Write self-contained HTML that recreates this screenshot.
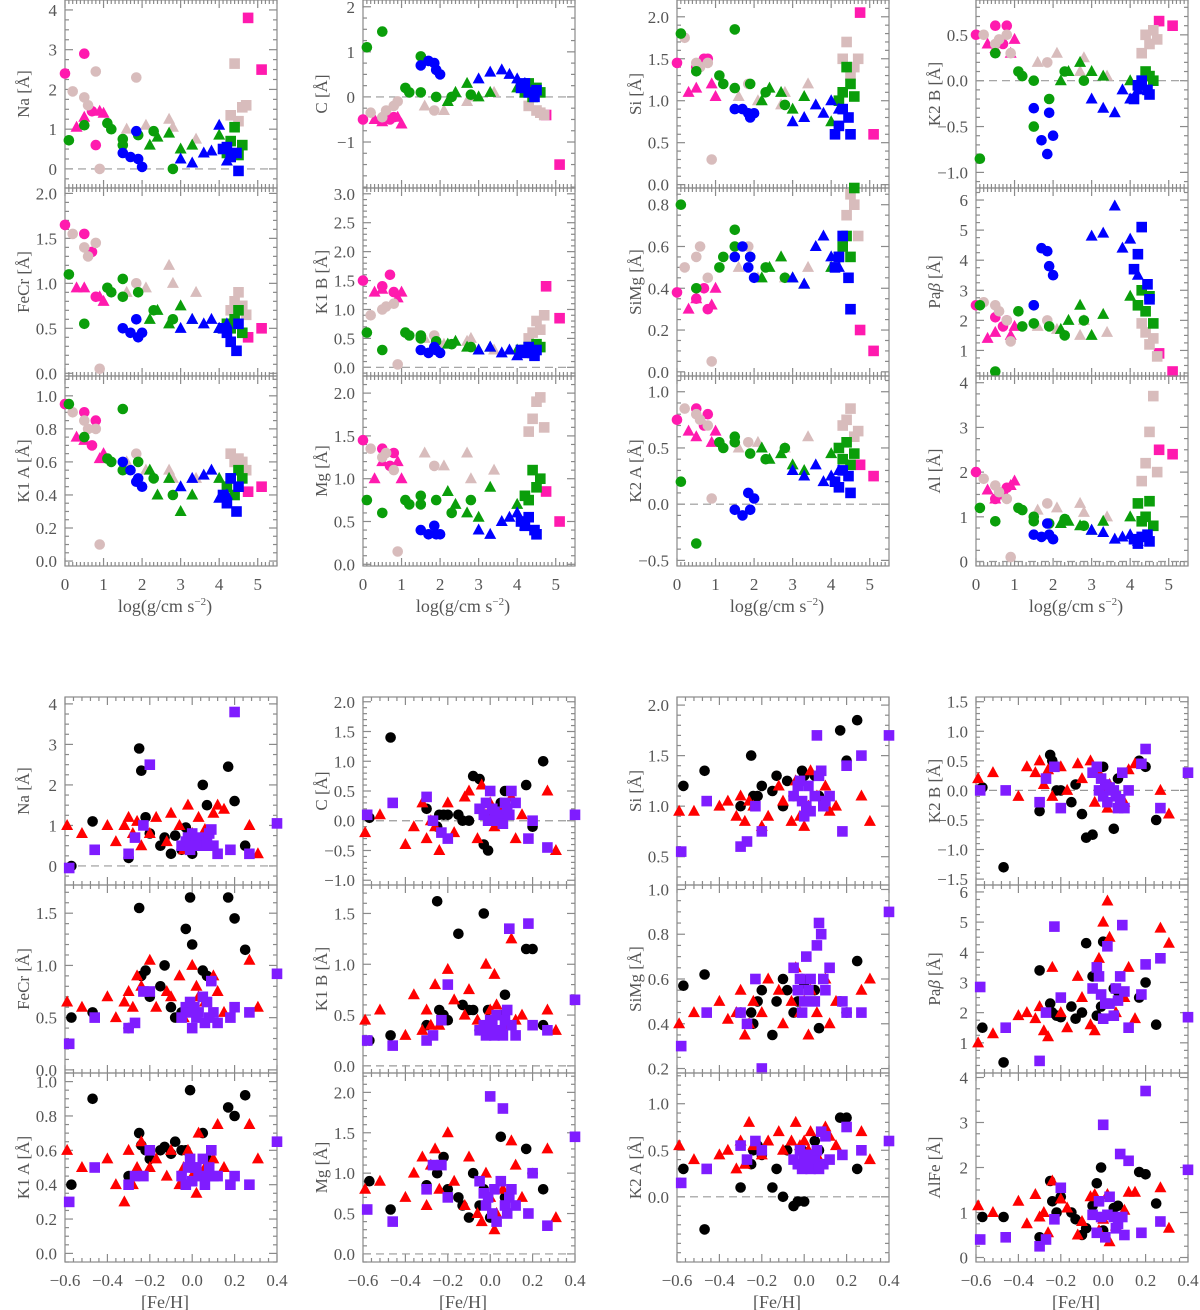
<!DOCTYPE html>
<html><head><meta charset="utf-8"><style>
html,body{margin:0;padding:0;background:#fff}
svg{display:block}
text{font-family:"Liberation Serif",serif;fill:#555}
</style></head><body>
<svg id="fig" width="1200" height="1310" viewBox="0 0 1200 1310" xmlns="http://www.w3.org/2000/svg"></svg>
<script>
// ---------- top block: stars (log g, group) ----------
const loggVals=[0.0,0.8,0.5,0.7, 0.3,0.5,0.9,1.0, 4.75,5.1,
 0.2,0.5,0.6,0.8,0.9,1.85, 1.6,2.1,2.7,2.8,3.4, 4.3,4.4,4.5,4.6,4.7,
 0.1,0.5,1.1,1.2,1.5,1.5,1.9,2.3,2.8, 2.2,2.4,2.7,3.0,3.3,4.0, 4.2,4.3,4.4,4.5,4.6,
 1.5,1.7,1.85,1.9,2.0, 3.0,3.3,3.6,3.8,4.0,4.2, 4.1,4.2,4.3,4.45,4.5];
const topGroups=["mc","mc","mc","mc","mt","mt","mt","mt","ms","ms",
 "pc","pc","pc","pc","pc","pc","pt","pt","pt","pt","pt","ps","ps","ps","ps","ps",
 "gc","gc","gc","gc","gc","gc","gc","gc","gc","gt","gt","gt","gt","gt","gt","gs","gs","gs","gs","gs",
 "bc","bc","bc","bc","bc","bt","bt","bt","bt","bt","bt","bs","bs","bs","bs","bs"];
const naTop=[2.4,0.6,2.9,1.45, 1.05,1.3,1.45,1.4, 3.8,2.5, 1.95,1.8,1.6,2.45,0.0,2.3, 1.0,1.1,1.25,1.05,0.75, 1.35,2.65,1.2,1.55,1.6,
 0.72,1.1,1.15,1.0,0.75,0.6,0.85,0.95,0.0, 0.6,0.8,0.9,0.5,0.6,0.85, 0.4,0.7,1.05,0.35,0.6,
 0.4,0.3,0.95,0.25,0.05, 0.25,0.15,0.4,0.45,1.1,0.2, 0.5,0.55,0.3,0.4,-0.05];
const cTop=[-0.5,-0.45,-0.5,-0.5, -0.5,-0.55,-0.45,-0.6, -0.4,-1.5, -0.35,-0.45,-0.3,-0.2,-0.1,-0.3, -0.2,-0.3,-0.1,0.0,0.1, -0.2,0.0,-0.3,-0.35,-0.4,
 1.1,1.45,0.2,0.1,0.9,0.1,0.0,0.0,0.05, -0.1,0.1,0.3,0.0,0.1,0.2, 0.1,0.3,0.0,0.2,0.1,
 0.7,0.8,0.75,0.6,0.5, 0.4,0.55,0.6,0.5,0.4,0.3, 0.2,0.3,0.1,0.0,0.15];
const siTop=[1.45,1.5,1.4,1.5, 1.1,1.15,1.2,1.05, 2.05,0.6, 1.75,1.45,1.4,1.45,0.3,1.2, 1.05,1.0,0.95,1.1,1.2, 1.5,1.7,1.3,1.4,1.5,
 1.8,1.35,1.3,1.2,1.85,1.15,1.2,1.1,0.95, 1.0,1.15,1.1,0.9,1.05,0.75, 1.0,1.1,1.4,1.2,1.05,
 0.9,0.9,0.85,0.8,0.85, 0.75,0.8,0.95,0.85,1.0,0.9, 0.6,0.7,0.9,0.8,0.6];
const k2bTop=[0.5,0.6,0.6,0.4, 0.4,0.35,0.3,0.45, 0.65,0.6, 0.5,0.4,0.45,0.5,0.3,0.2, 0.2,0.3,0.1,0.25,0.05, 0.3,0.5,0.4,0.55,0.45,
 -0.85,0.3,0.1,0.05,0.0,-0.5,-0.2,0.1,0.0, 0.0,0.1,0.2,0.1,0.05,0.0, -0.05,0.0,0.1,0.05,0.0,
 -0.3,-0.65,-0.8,-0.35,-0.6, -0.2,-0.3,-0.35,-0.1,-0.2,-0.1, -0.2,-0.05,0.0,-0.1,-0.15];
const fecrTop=[1.65,0.85,1.55,1.35, 0.95,0.95,0.85,0.8, 0.4,0.5, 1.55,1.4,1.3,1.45,0.05,1.0, 0.9,0.95,1.2,1.0,0.9, 0.7,0.8,0.9,0.75,0.65,
 1.1,0.55,0.95,0.9,1.05,0.85,0.9,0.7,0.6, 0.6,0.7,0.55,0.75,0.6,0.5, 0.55,0.5,0.6,0.7,0.45,
 0.5,0.45,0.6,0.4,0.45, 0.5,0.6,0.55,0.6,0.5,0.55, 0.5,0.45,0.35,0.25,0.55];
const k1bTop=[1.5,1.3,1.4,1.6, 1.3,1.35,1.2,1.3, 1.4,0.85, 0.9,1.0,1.05,1.1,0.05,0.55, 0.5,0.4,0.45,0.5,0.3, 0.5,0.6,0.8,0.65,0.9,
 0.6,0.3,0.6,0.55,0.55,0.5,0.45,0.4,0.35, 0.4,0.45,0.35,0.3,0.35,0.3, 0.3,0.35,0.25,0.4,0.35,
 0.3,0.25,0.35,0.3,0.25, 0.3,0.35,0.25,0.3,0.2,0.3, 0.3,0.25,0.35,0.2,0.3];
const simgTop=[0.38,0.3,0.35,0.4, 0.3,0.35,0.32,0.4, 0.2,0.1, 0.5,0.55,0.6,0.45,0.05,0.6, 0.5,0.45,0.55,0.45,0.5, 0.65,0.75,0.85,0.8,0.65,
 0.8,0.4,0.5,0.55,0.68,0.6,0.55,0.5,0.45, 0.45,0.5,0.55,0.45,0.42,0.5, 0.55,0.6,0.65,0.55,0.88,
 0.55,0.6,0.5,0.55,0.45, 0.45,0.42,0.6,0.65,0.55,0.5, 0.5,0.55,0.65,0.45,0.3];
const pabTop=[2.5,2.0,2.1,1.8, 1.4,1.6,1.5,1.8, 0.9,0.3, 2.6,2.5,2.3,2.0,1.3,2.0, 1.8,1.7,1.5,2.0,1.6, 1.9,1.6,1.2,1.4,0.8,
 2.5,0.3,2.3,1.8,2.5,1.9,1.8,1.5,2.0, 1.7,2.0,2.5,1.5,2.2,2.8, 2.5,3.0,2.3,2.8,1.9,
 2.5,4.4,4.3,3.8,3.5, 4.8,4.9,5.8,4.4,4.7,3.5, 3.7,4.2,5.1,3.2,2.7];
const k1aTop=[0.95,0.85,0.9,0.7, 0.75,0.73,0.62,0.65, 0.42,0.45, 0.9,0.85,0.8,0.8,0.1,0.65, 0.6,0.55,0.55,0.5,0.5, 0.65,0.6,0.62,0.6,0.55,
 0.95,0.75,0.62,0.6,0.92,0.55,0.6,0.5,0.4, 0.55,0.4,0.5,0.3,0.4,0.5, 0.45,0.5,0.4,0.55,0.5,
 0.6,0.55,0.48,0.5,0.45, 0.45,0.5,0.52,0.55,0.38,0.4, 0.4,0.35,0.5,0.3,0.45];
const mgTop=[1.45,1.3,1.35,1.15, 1.0,1.2,1.2,1.0, 0.85,0.5, 1.35,1.25,1.3,1.1,0.15,1.15, 1.3,1.15,1.3,1.0,1.1, 1.55,1.7,1.9,1.95,1.6,
 0.75,0.6,0.75,0.7,0.8,0.7,0.75,0.6,0.75, 0.85,0.7,0.6,0.55,0.9,0.7, 0.8,0.75,1.1,0.9,1.0,
 0.4,0.35,0.45,0.35,0.35, 0.4,0.35,0.5,0.55,0.6,0.45, 0.5,0.45,0.55,0.4,0.35];
const k2aTop=[0.75,0.8,0.85,0.7, 0.65,0.6,0.55,0.65, 0.35,0.25, 0.85,0.8,0.75,0.7,0.05,0.55, 0.5,0.55,0.45,0.5,0.6, 0.7,0.75,0.85,0.6,0.65,
 0.2,-0.35,0.55,0.5,0.6,0.55,0.45,0.4,0.5, 0.5,0.4,0.45,0.35,0.3,0.45, 0.5,0.4,0.55,0.35,0.45,
 -0.05,-0.1,0.1,-0.05,0.05, 0.3,0.25,0.35,0.2,0.25,0.3, 0.2,0.15,0.3,0.25,0.1];
const alTop=[2.0,1.65,1.4,1.5, 1.6,1.4,1.7,1.8, 2.5,2.4, 1.85,1.7,1.55,1.4,0.1,1.3, 1.15,1.2,1.3,1.1,1.0, 1.8,2.2,2.9,3.7,2.0,
 1.2,0.9,1.2,1.15,1.0,0.9,0.85,0.95,0.8, 0.85,0.9,0.8,0.7,0.9,1.0, 1.3,0.9,1.0,1.35,0.8,
 0.6,0.55,0.85,0.6,0.5, 0.7,0.65,0.5,0.55,0.6,0.45, 0.5,0.4,0.55,0.6,0.45];

// ---------- bottom block: stars ([Fe/H], group) ----------
const fehVals=[-0.57,-0.47,-0.3,-0.25,-0.24,-0.22,-0.2,-0.15,-0.13,-0.1,-0.08,-0.05,-0.03,-0.01,0.0,0.05,0.07,0.17,0.2,0.25,
 -0.59,-0.52,-0.4,-0.36,-0.32,-0.3,-0.28,-0.26,-0.24,-0.2,-0.17,-0.12,-0.1,-0.06,-0.04,-0.02,0.0,0.02,0.03,0.06,0.1,0.12,0.15,0.27,0.31,
 -0.58,-0.46,-0.3,-0.27,-0.23,-0.2,-0.05,-0.03,-0.02,-0.01,0.0,0.01,0.02,0.03,0.05,0.06,0.07,0.08,0.09,0.1,0.12,0.18,0.2,0.27,0.4];
const botGroups=Array(20).fill("kc").concat(Array(25).fill("rt"),Array(25).fill("vs"));
const naBot=[0.0,1.1,0.2,2.9,2.35,1.2,0.8,0.5,0.7,0.3,0.75,0.4,0.95,0.6,0.3,2.0,1.5,2.45,1.6,0.5,
 1.0,0.8,1.0,0.6,1.0,1.2,0.8,1.1,0.5,0.8,1.2,0.6,1.3,1.0,0.4,1.5,0.8,0.6,1.2,0.9,1.3,1.5,1.4,1.0,0.3,
 -0.05,0.4,0.3,0.7,1.0,2.5,0.5,0.6,0.7,0.4,0.8,0.5,0.6,0.5,0.7,0.5,0.6,0.8,0.9,0.5,0.3,0.4,3.8,0.3,1.05];
const cBot=[0.05,1.4,0.2,-0.1,0.1,0.1,0.1,0.1,0.0,0.0,0.75,0.7,-0.4,-0.5,0.1,0.3,0.5,0.6,-0.1,1.0,
 -0.2,0.1,-0.4,-0.1,0.3,-0.3,0.0,-0.1,-0.5,0.3,-0.2,0.4,0.5,-0.3,0.6,0.1,0.3,-0.1,0.0,0.2,0.4,-0.3,0.1,0.5,-0.5,
 0.1,0.3,0.4,0.0,-0.2,-0.3,0.2,0.1,0.3,0.0,0.5,0.2,0.15,0.0,0.1,-0.05,0.3,0.2,0.1,0.5,0.3,-0.3,0.0,-0.45,0.1];
const siBot=[1.2,1.35,1.0,1.5,1.1,1.1,1.2,1.15,1.3,1.0,1.25,1.1,1.2,1.35,1.3,1.3,1.1,1.75,1.45,1.85,
 0.95,0.95,1.0,1.05,0.9,1.1,0.85,1.05,1.0,0.8,0.9,1.2,1.05,0.85,1.25,0.9,0.8,1.0,1.35,1.1,1.2,0.95,1.0,1.1,0.85,
 0.55,1.05,0.6,0.65,1.0,0.75,1.1,1.2,1.25,1.05,0.9,1.0,1.2,0.95,1.1,1.7,1.3,1.35,1.0,1.05,1.1,0.75,1.4,1.5,1.7];
const k2bBot=[0.05,-1.3,-0.35,0.6,0.5,0.0,0.0,-0.2,0.1,-0.4,-0.8,-0.75,0.3,0.0,0.4,-0.65,0.2,0.5,0.4,-0.5,
 0.2,0.3,-0.1,0.4,0.3,0.5,0.1,0.35,-0.1,0.4,0.0,0.45,0.2,0.5,-0.2,0.3,0.0,-0.3,0.1,-0.1,-0.2,0.35,0.45,0.0,-0.4,
 0.0,0.0,-0.2,0.2,0.4,-0.3,0.3,0.4,0.0,0.2,-0.1,0.1,-0.2,0.05,0.0,-0.1,-0.3,-0.15,0.3,-0.3,0.0,0.45,0.7,-0.3,0.3];
const fecrBot=[0.5,0.55,0.4,1.55,0.9,0.95,0.7,0.8,1.0,0.6,0.5,0.55,1.35,1.65,1.2,0.95,0.9,1.65,1.45,1.15,
 0.65,0.6,0.7,0.5,0.65,0.75,0.6,0.9,0.8,1.05,0.6,0.75,0.7,0.9,0.5,0.6,1.0,0.8,0.7,0.65,0.9,0.75,0.55,1.05,0.6,
 0.25,0.5,0.4,0.45,0.75,0.75,0.5,0.6,0.55,0.65,0.4,0.6,0.5,0.55,0.7,0.45,0.65,0.5,0.85,0.55,0.45,0.5,0.6,0.55,0.92];
const k1bBot=[0.25,0.3,0.4,1.62,0.55,0.5,0.45,1.3,0.6,0.55,0.55,0.35,1.5,0.55,0.4,0.5,0.7,1.15,1.15,0.4,
 0.45,0.55,0.3,0.7,0.35,0.55,0.4,0.8,0.4,0.95,0.65,0.5,0.75,0.45,0.35,1.0,0.55,0.9,0.6,0.4,1.25,0.45,0.5,0.55,0.35,
 0.25,0.2,0.25,0.3,0.45,0.8,0.35,0.4,0.3,0.35,0.45,0.4,0.3,0.5,0.35,0.3,0.45,0.55,1.35,0.4,0.3,1.4,0.4,0.35,0.65];
const simgBot=[0.57,0.62,0.45,0.45,0.4,0.5,0.55,0.35,0.5,0.6,0.55,0.45,0.5,0.6,0.58,0.55,0.38,0.5,0.45,0.68,
 0.4,0.45,0.5,0.42,0.45,0.55,0.35,0.4,0.5,0.45,0.6,0.55,0.4,0.5,0.65,0.45,0.5,0.35,0.55,0.45,0.6,0.4,0.5,0.55,0.6,
 0.3,0.45,0.45,0.4,0.6,0.2,0.65,0.55,0.6,0.45,0.5,0.7,0.55,0.6,0.5,0.75,0.85,0.8,0.6,0.55,0.65,0.5,0.45,0.45,0.9];
const pabBot=[1.5,0.35,3.4,2.3,2.0,1.9,1.85,2.2,1.8,2.0,4.3,3.2,1.9,2.2,4.35,2.8,2.7,2.5,3.0,1.6,
 1.0,1.3,1.9,2.0,1.8,2.2,1.4,1.2,3.5,2.0,1.5,3.2,2.5,1.6,1.4,3.8,5.0,5.7,4.5,2.0,2.5,3.5,1.8,4.8,4.3,
 2.85,1.5,0.4,2.0,4.85,2.5,2.8,3.5,3.2,2.6,1.8,2.3,4.2,2.3,1.9,2.8,2.4,3.2,4.9,2.7,1.5,2.6,3.6,3.8,1.85];
const k1aBot=[0.4,0.9,0.45,0.7,0.63,0.6,0.55,0.6,0.62,0.58,0.65,0.6,0.6,0.95,0.5,0.7,0.55,0.85,0.8,0.92,
 0.6,0.5,0.55,0.4,0.3,0.6,0.4,0.5,0.65,0.5,0.55,0.45,0.6,0.4,0.5,0.6,0.45,0.35,0.7,0.5,0.55,0.75,0.5,0.75,0.55,
 0.3,0.5,0.4,0.45,0.45,0.6,0.45,0.4,0.5,0.55,0.42,0.5,0.5,0.45,0.55,0.4,0.45,0.5,0.6,0.45,0.45,0.4,0.45,0.4,0.65];
const mgBot=[0.9,0.55,0.85,1.0,1.1,1.2,0.8,0.7,0.6,0.45,1.0,0.6,0.8,0.7,0.45,1.45,0.7,1.3,1.0,0.8,
 0.8,0.9,0.7,1.0,1.2,0.6,1.1,1.3,0.8,1.5,0.9,0.6,1.2,0.5,0.4,1.0,0.7,0.3,0.5,0.8,1.4,1.1,0.7,1.3,0.45,
 0.55,0.4,0.8,1.1,1.1,0.7,0.9,0.75,0.6,0.7,1.95,0.5,0.8,0.4,0.9,1.8,0.6,0.5,0.7,0.8,0.6,0.5,1.0,0.35,1.45];
const k2aBot=[0.3,-0.35,0.1,0.35,0.5,0.55,0.45,0.1,0.3,0.0,0.5,-0.1,-0.05,0.5,-0.05,0.6,0.5,0.85,0.85,0.3,
 0.55,0.4,0.45,0.5,0.3,0.6,0.35,0.8,0.55,0.45,0.6,0.7,0.5,0.6,0.8,0.55,0.6,0.5,0.7,0.45,0.75,0.65,0.55,0.7,0.4,
 0.15,0.3,0.55,0.4,0.6,0.5,0.4,0.35,0.5,0.3,0.4,0.35,0.45,0.3,0.4,0.5,0.3,0.7,0.35,0.65,0.4,0.45,0.75,0.5,0.6];
const alfeBot=[0.9,0.9,0.45,1.7,1.25,1.0,1.35,1.0,0.85,0.5,0.65,1.15,1.65,2.0,0.6,1.1,1.15,1.9,1.85,1.2,
 1.15,1.0,1.25,0.75,1.4,0.9,1.0,0.55,1.7,1.3,1.1,0.5,0.8,1.35,1.4,0.6,0.85,1.4,0.35,0.7,1.05,1.45,1.45,1.55,0.65,
 0.4,0.45,0.25,0.4,0.85,1.55,0.95,0.55,1.25,0.9,2.95,0.45,0.95,1.35,0.9,0.65,0.75,2.3,0.9,0.5,2.15,0.55,3.7,0.8,1.95];

const topXTicks=[0,1,2,3,4,5];
const botXTicks=[-0.6,-0.4,-0.2,0.0,0.2,0.4];

const COLORS={m:"#ff1aae",p:"#d8bcbc",g:"#0a9e0a",b:"#0000ff",k:"#000000",r:"#ff0000",v:"#7f1cff"};
const svg=document.getElementById('fig');
const NS="http://www.w3.org/2000/svg";
function mk(tag,attrs,parent){const e=document.createElementNS(NS,tag);for(const k in attrs)e.setAttribute(k,attrs[k]);(parent||svg).appendChild(e);return e;}

const colX=[65,363,677,976], W=212;
const topRows=[[0,188],[188,376],[376,566]];
const botRows=[[697,885],[885,1073],[1073,1262]];

const topPanels=[
 {id:"na-top",lab:"Na [Å]",c:0,r:0,ymin:-0.48,ymax:4.25,t:[0,1,2,3,4],d:0,mn:0.25,z:1,v:naTop},
 {id:"c-top",lab:"C [Å]",c:1,r:0,ymin:-2.02,ymax:2.15,t:[-1,0,1,2],d:0,mn:0.25,z:1,v:cTop},
 {id:"si-top",lab:"Si [Å]",c:2,r:0,ymin:-0.04,ymax:2.2,t:[0,0.5,1,1.5,2],d:1,mn:0.1,z:0,v:siTop},
 {id:"k2b-top",lab:"K2 B [Å]",c:3,r:0,ymin:-1.17,ymax:0.88,t:[-1,-0.5,0,0.5],d:1,mn:0.1,z:1,v:k2bTop},
 {id:"fecr-top",lab:"FeCr [Å]",c:0,r:1,ymin:-0.03,ymax:2.06,t:[0,0.5,1,1.5,2],d:1,mn:0.1,z:0,v:fecrTop},
 {id:"k1b-top",lab:"K1 B [Å]",c:1,r:1,ymin:-0.15,ymax:3.1,t:[0,0.5,1,1.5,2,2.5,3],d:1,mn:0.1,z:1,v:k1bTop},
 {id:"simg-top",lab:"SiMg [Å]",c:2,r:1,ymin:-0.02,ymax:0.88,t:[0,0.2,0.4,0.6,0.8],d:1,mn:0.05,z:0,v:simgTop},
 {id:"pab-top",lab:"Paβ [Å]",c:3,r:1,ymin:0.15,ymax:6.4,t:[1,2,3,4,5,6],d:0,mn:0.25,z:0,v:pabTop},
 {id:"k1a-top",lab:"K1 A [Å]",c:0,r:2,ymin:-0.03,ymax:1.12,t:[0,0.2,0.4,0.6,0.8,1],d:1,mn:0.05,z:0,v:k1aTop},
 {id:"mg-top",lab:"Mg [Å]",c:1,r:2,ymin:-0.02,ymax:2.2,t:[0,0.5,1,1.5,2],d:1,mn:0.1,z:0,v:mgTop},
 {id:"k2a-top",lab:"K2 A [Å]",c:2,r:2,ymin:-0.55,ymax:1.14,t:[-0.5,0,0.5,1],d:1,mn:0.1,z:1,v:k2aTop},
 {id:"al-top",lab:"Al [Å]",c:3,r:2,ymin:-0.1,ymax:4.15,t:[0,1,2,3,4],d:0,mn:0.25,z:1,v:alTop}
];
const botPanels=[
 {id:"na-bot",lab:"Na [Å]",c:0,r:0,ymin:-0.47,ymax:4.17,t:[0,1,2,3,4],d:0,mn:0.25,z:1,v:naBot},
 {id:"c-bot",lab:"C [Å]",c:1,r:0,ymin:-1.08,ymax:2.08,t:[-1,-0.5,0,0.5,1,1.5,2],d:1,mn:0.1,z:1,v:cBot},
 {id:"si-bot",lab:"Si [Å]",c:2,r:0,ymin:0.22,ymax:2.08,t:[0.5,1,1.5,2],d:1,mn:0.1,z:0,v:siBot},
 {id:"k2b-bot",lab:"K2 B [Å]",c:3,r:0,ymin:-1.6,ymax:1.58,t:[-1.5,-1,-0.5,0,0.5,1,1.5],d:1,mn:0.1,z:1,v:k2bBot},
 {id:"fecr-bot",lab:"FeCr [Å]",c:0,r:1,ymin:-0.03,ymax:1.77,t:[0,0.5,1,1.5],d:1,mn:0.1,z:0,v:fecrBot},
 {id:"k1b-bot",lab:"K1 B [Å]",c:1,r:1,ymin:-0.07,ymax:1.78,t:[0,0.5,1,1.5],d:1,mn:0.1,z:1,v:k1bBot},
 {id:"simg-bot",lab:"SiMg [Å]",c:2,r:1,ymin:0.18,ymax:1.02,t:[0.2,0.4,0.6,0.8,1],d:1,mn:0.05,z:0,v:simgBot},
 {id:"pab-bot",lab:"Paβ [Å]",c:3,r:1,ymin:0.0,ymax:6.23,t:[1,2,3,4,5,6],d:0,mn:0.25,z:0,v:pabBot},
 {id:"k1a-bot",lab:"K1 A [Å]",c:0,r:2,ymin:-0.05,ymax:1.05,t:[0,0.2,0.4,0.6,0.8,1],d:1,mn:0.05,z:0,v:k1aBot},
 {id:"mg-bot",lab:"Mg [Å]",c:1,r:2,ymin:-0.1,ymax:2.24,t:[0,0.5,1,1.5,2],d:1,mn:0.1,z:1,v:mgBot},
 {id:"k2a-bot",lab:"K2 A [Å]",c:2,r:2,ymin:-0.7,ymax:1.33,t:[0,0.5,1],d:1,mn:0.1,z:1,v:k2aBot},
 {id:"alfe-bot",lab:"AlFe [Å]",c:3,r:2,ymin:-0.1,ymax:4.1,t:[0,1,2,3,4],d:0,mn:0.25,z:0,v:alfeBot}
];

function fmt(v,d){let s=v.toFixed(d);if(s.startsWith("-"))s="\u2212"+s.slice(1);if(s==="\u22120"||s==="\u22120.0")s=s.slice(1);return s;}

function marker(g,x,y,grp){
 const col=COLORS[grp[0]],sh=grp[1];let e;
 if(sh==="c"){e=mk('circle',{cx:x.toFixed(1),cy:y.toFixed(1),r:5.3,fill:col},g);}
 else if(sh==="t"){e=mk('polygon',{points:`${x},${y-6.5} ${x-6},${y+4.5} ${x+6},${y+4.5}`,fill:col},g);}
 else {e=mk('rect',{x:(x-5.3).toFixed(1),y:(y-5.3).toFixed(1),width:10.6,height:10.6,fill:col},g);}
 
 
}

function drawPanel(p,rows,xmin,xmax,xs,xticks,xminor,xd,xtitle,superTitle){
 const x0=colX[p.c],y0=rows[p.r][0],y1=rows[p.r][1],x1=x0+W;
 const X=v=>x0+(v-xmin)/(xmax-xmin)*W;
 const Y=v=>y1-(v-p.ymin)/(p.ymax-p.ymin)*(y1-y0);
 const g=mk('g',{});
 
 
 const ax=mk('g',{stroke:"#8a8a8a","stroke-width":1.2,fill:"none"},g);
 
 
 // minor y ticks
 const s0=Math.ceil(p.ymin/p.mn-1e-6);
 for(let k=s0;k*p.mn<=p.ymax+1e-9;k++){const v=k*p.mn;const y=Y(v);
  const major=p.t.some(t=>Math.abs(t-v)<1e-6);const L=major?8:4;
  mk('line',{x1:x0,y1:y,x2:x0+L,y2:y},ax);mk('line',{x1:x1,y1:y,x2:x1-L,y2:y},ax);}
 // x ticks
 for(let v=Math.ceil(xmin/xminor-1e-6)*xminor;v<=xmax+1e-9;v+=xminor){const x=X(v);
  const major=xticks.some(t=>Math.abs(t-v)<1e-6);const L=major?8:4;
  mk('line',{x1:x,y1:y1,x2:x,y2:y1-L},ax);mk('line',{x1:x,y1:y0,x2:x,y2:y0+L},ax);}
 mk('rect',{x:x0,y:y0,width:W,height:y1-y0},ax);
 if(p.z){const zl=mk('line',{x1:x0,y1:Y(0),x2:x1,y2:Y(0),stroke:"#999","stroke-width":1.2,"stroke-dasharray":"8,5"},g);
  }
 // y tick labels
 p.t.forEach(t=>{const tx=mk('text',{x:x0-8,y:Y(t)+6,"text-anchor":"end","font-size":17},g);tx.textContent=fmt(t,p.d);
  });
 // y label
 const cy=(y0+y1)/2,lx=x0-36;
 const yl=mk('text',{x:lx,y:cy,"text-anchor":"middle","font-size":17,transform:`rotate(-90 ${lx} ${cy})`},g);
 if(p.lab.indexOf("β")>=0){yl.innerHTML='Pa<tspan font-style="italic">β</tspan> [Å]';}else yl.textContent=p.lab;
 
 // points
 const pg=mk('g',{},g);
 p.v.forEach((v,i)=>{if(v==null)return;marker(pg,X(xs[i]),Y(v),p.groups[i]);});
 if(p.r===2){
  xticks.forEach(t=>{const tx=mk('text',{x:X(t),y:y1+24,"text-anchor":"middle","font-size":17},g);tx.textContent=fmt(t,xd);
   });
  const tt=mk('text',{x:x0+W/2-6,y:y1+46,"text-anchor":"middle","font-size":18},g);
  tt.innerHTML=xtitle;
  
 }
}
topPanels.forEach(p=>{p.groups=topGroups;drawPanel(p,topRows,0,5.5,loggVals,topXTicks,0.1,0,'log(g/cm s<tspan font-size="11" dy="-7">\u22122</tspan><tspan dy="7">)</tspan>');});
botPanels.forEach(p=>{p.groups=botGroups;drawPanel(p,botRows,-0.6,0.4,fehVals,botXTicks,0.04,1,'[Fe/H]');});
</script>
</body></html>
